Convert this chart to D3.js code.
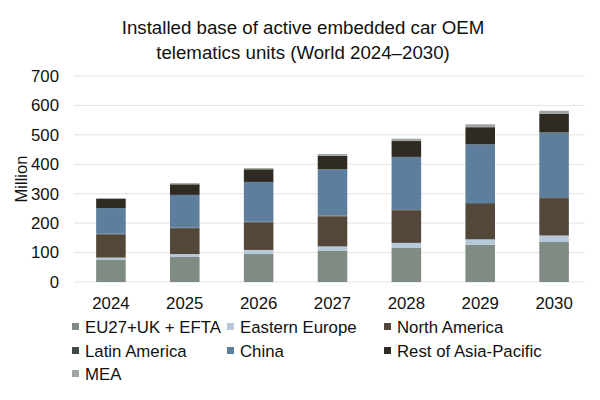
<!DOCTYPE html>
<html>
<head>
<meta charset="utf-8">
<script src="https://cdn.jsdelivr.net/npm/d3@7"></script>
<style>
  body { margin: 0; background: #fff; }
  text { font-family: "Liberation Sans", Arial, sans-serif; fill: #111; }
</style>
</head>
<body>
<svg width="600" height="400"></svg>
<script>
const years = ["2024", "2025", "2026", "2027", "2028", "2029", "2030"];
const seriesNames = ["EU27+UK + EFTA", "Eastern Europe", "North America", "Latin America", "China", "Rest of Asia-Pacific", "MEA"];
const eu = [75, 85, 95, 107, 117, 127, 136];
const easternEurope = [8, 10, 14, 14, 16, 18, 22];
const northAmerica = [79, 88, 94, 102, 111, 120, 127];
const latinAmerica = [2, 2, 2, 3, 3, 3, 3];
const china = [87, 111, 135, 157, 178, 200, 220];
const restAsiaPacific = [31, 36, 43, 46, 54, 58, 63];
const mea = [3, 4, 4, 6, 8, 10, 11];
const yTicks = [0, 100, 200, 300, 400, 500, 600, 700];
const colors = ["#7f8b83", "#b5c9db", "#534739", "#3f4a47", "#5d7f9d", "#2f2a22", "#a0a7a3"];

const seriesValues = [eu, easternEurope, northAmerica, latinAmerica, china, restAsiaPacific, mea];
const table = years.map((y, i) => {
    const row = { year: y };
    seriesNames.forEach((s, j) => row[s] = seriesValues[j][i]);
    return row;
});

const svg = d3.select("svg");
const margin = { top: 76, right: 9, bottom: 118, left: 74 };
const width = 600, height = 400;

const x = d3.scaleBand()
    .domain(years)
    .range([margin.left, width - margin.right])
    .paddingInner(0.6)
    .paddingOuter(0.3);

const y = d3.scaleLinear()
    .domain([0, 700])
    .range([height - margin.bottom, margin.top]);

// gridlines
svg.append("g")
    .selectAll("line")
    .data(yTicks)
    .join("line")
    .attr("x1", margin.left)
    .attr("x2", width - margin.right - 6)
    .attr("y1", d => y(d))
    .attr("y2", d => y(d))
    .attr("stroke", "#e3e3e3")
    .attr("stroke-width", 1);

const stacked = d3.stack().keys(seriesNames)(table);

svg.append("g")
    .selectAll("g")
    .data(stacked)
    .join("g")
    .attr("fill", (d, i) => colors[i])
    .selectAll("rect")
    .data(d => d)
    .join("rect")
    .attr("x", d => x(d.data.year))
    .attr("y", d => y(d[1]))
    .attr("width", x.bandwidth())
    .attr("height", d => y(d[0]) - y(d[1]));

// y axis
const yAxis = svg.append("g")
    .attr("transform", `translate(${margin.left - 15},0)`)
    .call(d3.axisLeft(y).tickValues(yTicks).tickSize(0));
yAxis.select(".domain").remove();
yAxis.selectAll("text")
    .attr("x", 0)
    .style("font-size", "16.8px")
    .style("font-family", "Liberation Sans, Arial, sans-serif")
    .attr("fill", "#111");

// x axis
const xAxis = svg.append("g")
    .attr("transform", `translate(0,${height - margin.bottom})`)
    .call(d3.axisBottom(x).tickSize(0));
xAxis.select(".domain").remove();
xAxis.selectAll("text")
    .attr("dy", "1.4em")
    .style("font-size", "16.8px")
    .style("font-family", "Liberation Sans, Arial, sans-serif")
    .attr("fill", "#111");

// y label
svg.append("text")
    .attr("transform", "rotate(-90)")
    .attr("x", -179)
    .attr("y", 27)
    .attr("text-anchor", "middle")
    .attr("font-size", "16.5px")
    .text("Million");

// title
const title = svg.append("text")
    .attr("x", 303)
    .attr("text-anchor", "middle")
    .attr("font-size", "18.7px");
title.append("tspan").attr("x", 303).attr("y", 34).text("Installed base of active embedded car OEM");
title.append("tspan").attr("x", 303).attr("y", 59).text("telematics units (World 2024\u20132030)");

// legend
const legendCols = [72, 227, 384];
const legendRows = [327, 351, 374];
const legend = svg.append("g")
    .selectAll("g")
    .data(seriesNames)
    .join("g")
    .attr("transform", (d, i) => `translate(${legendCols[i % 3]},${legendRows[Math.floor(i / 3)]})`);
legend.append("rect")
    .attr("x", 0)
    .attr("y", -4)
    .attr("width", 7)
    .attr("height", 7)
    .attr("fill", (d, i) => colors[i]);
legend.append("text")
    .attr("x", 13)
    .attr("y", 6)
    .attr("font-size", "16.8px")
    .text(d => d);
</script>
</body>
</html>
